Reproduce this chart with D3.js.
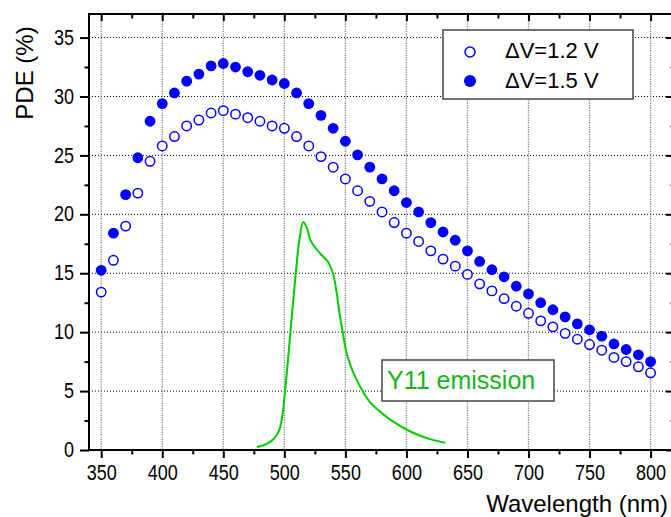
<!DOCTYPE html>
<html>
<head>
<meta charset="utf-8">
<script src="https://cdn.jsdelivr.net/npm/d3@7"></script>
<style>
  html, body { margin: 0; padding: 0; background: #fff; }
  svg { display: block; font-family: "Liberation Sans", Arial, sans-serif; }
</style>
</head>
<body>
<svg id="chart" width="671" height="517"></svg>
<script>
// ---- data ----
const wavelengths = d3.range(350, 801, 10);
const pde12 = [13.4, 16.1, 19.0, 21.8, 24.5, 25.8, 26.6, 27.5, 28.0, 28.6,
               28.8, 28.5, 28.2, 27.9, 27.5, 27.3, 26.6, 25.8, 24.9, 24.0,
               23.0, 22.0, 21.1, 20.2, 19.3, 18.4, 17.7, 16.9, 16.2, 15.6,
               14.9, 14.1, 13.5, 12.85, 12.2, 11.6, 10.96, 10.45, 9.9, 9.4,
               8.95, 8.47, 7.86, 7.5, 7.06, 6.55];
const pde15 = [15.25, 18.4, 21.67, 24.8, 27.9, 29.4, 30.3, 31.3, 31.9, 32.6,
               32.8, 32.5, 32.1, 31.8, 31.4, 31.1, 30.3, 29.4, 28.4, 27.3,
               26.2, 25.05, 24.0, 23.0, 22.0, 21.0, 20.2, 19.3, 18.5, 17.8,
               16.9, 16.0, 15.3, 14.7, 13.9, 13.25, 12.5, 11.9, 11.3, 10.7,
               10.2, 9.66, 9.0, 8.53, 8.08, 7.5];
const emissionWl  = [477.4, 486, 491.8, 495.9, 498.6, 500.5, 502.7, 504.9, 507.3, 509.6,
                     512.3, 515.5, 518.6, 521.8, 525.9, 530.5, 535.6, 539.8, 542.5, 545.2,
                     548, 550.6, 553, 556, 560, 565, 571, 578, 587.3, 603.6, 620, 632];
const emissionVal = [0.25, 0.55, 1.0, 1.7, 3.1, 4.9, 7.3, 9.9, 12.7, 15.25,
                     17.8, 19.35, 18.8, 17.7, 17.1, 16.55, 16.0, 15.0, 13.6, 11.6,
                     9.9, 8.4, 7.55, 6.7, 5.8, 4.85, 3.95, 3.3, 2.54, 1.55, 0.9, 0.62];
const xTicks = d3.range(350, 801, 50);
const xMinor = d3.range(375, 800, 50);
const yTicks = d3.range(0, 36, 5);
const yMinor = d3.range(2.5, 36, 5);
const legendLabels = ["\u0394V=1.2 V", "\u0394V=1.5 V"];
const emissionLabel = "Y11 emission";
const xTitle = "Wavelength (nm)";
const yTitle = "PDE (%)";

// ---- layout ----
const svg = d3.select("#chart");
const x = d3.scaleLinear([340, 820], [89, 675]);
const y = d3.scaleLinear([0, 37], [450, 14]);
const blue = "#0000ff", green = "#00cc00", greenText = "#19b319";
const narrow = 0.82;

// grid
svg.append("g").selectAll("line").data(yTicks.filter(d => d > 0)).join("line")
  .attr("x1", x.range()[0]).attr("x2", x.range()[1])
  .attr("y1", d => y(d)).attr("y2", d => y(d))
  .attr("stroke", "#000").attr("stroke-width", 1).attr("stroke-dasharray", "1,2");
svg.append("g").selectAll("line").data(xTicks).join("line")
  .attr("x1", d => x(d)).attr("x2", d => x(d))
  .attr("y1", y.range()[1]).attr("y2", y.range()[0])
  .attr("stroke", "#808080").attr("stroke-width", 1.3).attr("stroke-dasharray", "1.2,1.2");

// emission curve
const emission = emissionWl.map((w, i) => [w, emissionVal[i]]);
svg.append("path").datum(emission)
  .attr("d", d3.line().x(d => x(d[0])).y(d => y(d[1])).curve(d3.curveCatmullRom))
  .attr("fill", "none").attr("stroke", green).attr("stroke-width", 2);

// markers
svg.append("g").selectAll("circle").data(wavelengths).join("circle")
  .attr("cx", d => x(d)).attr("cy", (d, i) => y(pde12[i])).attr("r", 4.7)
  .attr("fill", "#fff").attr("stroke", blue).attr("stroke-width", 1.5);
svg.append("g").selectAll("circle").data(wavelengths).join("circle")
  .attr("cx", d => x(d)).attr("cy", (d, i) => y(pde15[i])).attr("r", 5.4)
  .attr("fill", blue);

// axes
const tickStyle = g => {
  g.selectAll("line").attr("stroke", "#000").attr("stroke-width", 2);
  g.select(".domain").remove();
};
const gB = svg.append("g").attr("transform", `translate(0,${y(0)})`)
  .call(d3.axisBottom(x).tickValues(xTicks).tickSize(8).tickSizeOuter(0).tickPadding(6).tickFormat(d3.format("d")))
  .call(tickStyle);
gB.selectAll("text").attr("font-size", 22).attr("fill", "#000")
  .attr("font-family", "'Liberation Sans', Arial, sans-serif")
  .attr("transform", `scale(${narrow},1)`);
svg.append("g").attr("transform", `translate(0,${y(0)})`)
  .call(d3.axisBottom(x).tickValues(xMinor).tickSize(4.5).tickSizeOuter(0).tickFormat(""))
  .call(tickStyle);

const gL = svg.append("g").attr("transform", `translate(${x.range()[0]},0)`)
  .call(d3.axisLeft(y).tickValues(yTicks).tickSize(9).tickSizeOuter(0).tickFormat(d3.format("d")))
  .call(tickStyle);
gL.selectAll("text").attr("font-size", 22).attr("fill", "#000")
  .attr("font-family", "'Liberation Sans', Arial, sans-serif")
  .attr("x", -15 / narrow).attr("dy", "0.3em")
  .attr("transform", `scale(${narrow},1)`);
svg.append("g").attr("transform", `translate(${x.range()[0]},0)`)
  .call(d3.axisLeft(y).tickValues(yMinor).tickSize(4.5).tickSizeOuter(0).tickFormat(""))
  .call(tickStyle);

svg.append("g").attr("transform", `translate(0,${y.range()[1]})`)
  .call(d3.axisTop(x).tickValues(xTicks).tickSize(-7).tickSizeOuter(0).tickFormat(""))
  .call(tickStyle);
svg.append("g").attr("transform", `translate(0,${y.range()[1]})`)
  .call(d3.axisTop(x).tickValues(xMinor).tickSize(-4.5).tickSizeOuter(0).tickFormat(""))
  .call(tickStyle);
svg.append("g").attr("transform", `translate(${x.range()[1]},0)`)
  .call(d3.axisRight(y).tickValues(yTicks).tickSize(-9).tickSizeOuter(0).tickFormat(""))
  .call(tickStyle);
svg.append("g").attr("transform", `translate(${x.range()[1]},0)`)
  .call(d3.axisRight(y).tickValues(yMinor).tickSize(-4.5).tickSizeOuter(0).tickFormat(""))
  .call(tickStyle);

// frame
svg.append("rect")
  .attr("x", x.range()[0]).attr("y", y.range()[1])
  .attr("width", x.range()[1] - x.range()[0]).attr("height", y.range()[0] - y.range()[1])
  .attr("fill", "none").attr("stroke", "#000").attr("stroke-width", 2);

// legend
const lg = svg.append("g");
lg.append("rect").attr("x", 443).attr("y", 30).attr("width", 190).attr("height", 69)
  .attr("fill", "#fff").attr("stroke", "#444").attr("stroke-width", 1.5);
lg.append("circle").attr("cx", 470).attr("cy", 52).attr("r", 5)
  .attr("fill", "#fff").attr("stroke", blue).attr("stroke-width", 1.5);
lg.append("circle").attr("cx", 470).attr("cy", 81).attr("r", 6).attr("fill", blue);
lg.selectAll("text").data(legendLabels).join("text")
  .attr("x", 505).attr("y", (d, i) => 58 + i * 29.5)
  .attr("font-size", 22).attr("fill", "#000").text(d => d);

// emission label
svg.append("rect").attr("x", 382).attr("y", 360).attr("width", 172).attr("height", 41)
  .attr("fill", "#fff").attr("stroke", "#444").attr("stroke-width", 1.5);
svg.append("text").attr("x", 387).attr("y", 388.5).attr("font-size", 25)
  .attr("fill", greenText).text(emissionLabel);

// titles
svg.append("text").attr("x", 668).attr("y", 512).attr("text-anchor", "end")
  .attr("font-size", 24).attr("fill", "#000").text(xTitle);
svg.append("text").attr("transform", "translate(33,73) rotate(-90)")
  .attr("text-anchor", "middle").attr("font-size", 24).attr("fill", "#000").text(yTitle);
</script>
</body>
</html>
